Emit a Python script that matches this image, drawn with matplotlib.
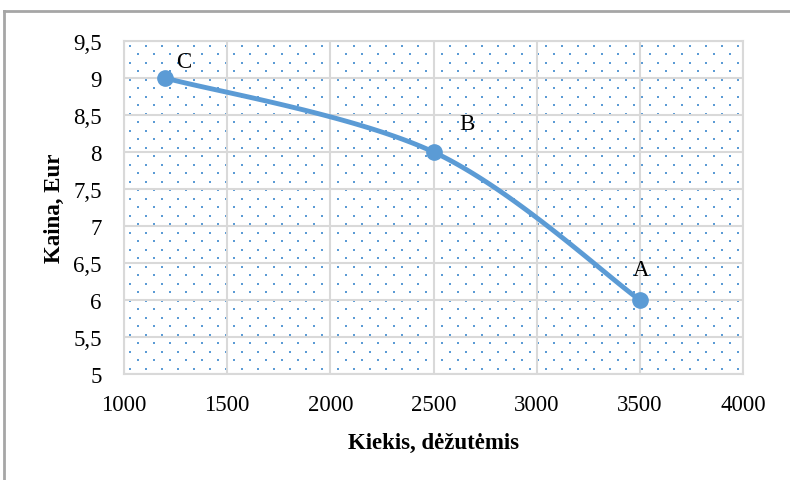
import numpy as np
import matplotlib.pyplot as plt
from matplotlib.lines import Line2D

# data
kiekis = [1200, 2500, 3500]
kaina = [9, 8, 6]
labels = ['C', 'B', 'A']
x_ticks = [1000, 1500, 2000, 2500, 3000, 3500, 4000]
y_ticks = [5, 5.5, 6, 6.5, 7, 7.5, 8, 8.5, 9, 9.5]

blue = '#5B9BD5'
grid_col = '#D9D9D9'
# label offsets in pixels, per point
lab_off = [(18, 16), (33, 28), (1, 31)]

plt.rcParams['font.family'] = ['Liberation Serif', 'DejaVu Serif']


# excel-like smoothed line (bezier through the points)
def smooth(xs, ys, n=60):
    p = np.column_stack([xs, ys]).astype(float)
    out = []
    for i in range(len(p) - 1):
        p0 = p[i - 1] if i > 0 else p[i]
        p3 = p[i + 2] if i + 2 < len(p) else p[i + 1]
        c1 = p[i] + (p[i + 1] - p0) / 6
        c2 = p[i + 1] - (p3 - p[i]) / 6
        t = np.linspace(0, 1, n)[:, None]
        seg = ((1 - t) ** 3 * p[i] + 3 * (1 - t) ** 2 * t * c1
               + 3 * (1 - t) * t ** 2 * c2 + t ** 3 * p[i + 1])
        out.append(seg)
    out = np.vstack(out)
    return out[:, 0], out[:, 1]


fig = plt.figure(figsize=(7.9, 4.81), dpi=100)
ax = fig.add_axes([124 / 790, 1 - 375 / 481, 619 / 790, 333 / 481])

# outer frame (only left and top visible in the crop)
fig.add_artist(Line2D([4 / 790, 4 / 790], [0, 1 - 12 / 481], color='#A6A6A6', lw=2, transform=fig.transFigure))
fig.add_artist(Line2D([4 / 790, 1], [1 - 12 / 481, 1 - 12 / 481], color='#A6A6A6', lw=2, transform=fig.transFigure))

# dotted fill pattern of the plot area
w, h = 619.0, 333.0
dots_x, dots_y = [], []
for r, yy in enumerate(np.arange(4.5, h, 8.5)):
    off = 6 if r % 2 == 0 else 14
    for xx in np.arange(off, w, 16):
        dots_x.append(xx / w)
        dots_y.append(1 - yy / h)
ax.scatter(dots_x, dots_y, s=2.6, marker='s', color=blue, lw=0, transform=ax.transAxes, zorder=0)

ax.set_xlim(1000, 4000)
ax.set_ylim(5, 9.5)
ax.set_xticks(x_ticks)
ax.set_yticks(y_ticks)
ax.set_yticklabels([('%g' % v).replace('.', ',') for v in y_ticks])
ax.grid(True, color=grid_col, lw=1.5)
ax.set_axisbelow(True)
for s in ax.spines.values():
    s.set_color(grid_col)
    s.set_linewidth(1.5)
ax.tick_params(length=0, labelsize=16.5)
ax.tick_params(axis='x', pad=14.5)
ax.tick_params(axis='y', pad=16)

sx, sy = smooth(kiekis, kaina)
ax.plot(sx, sy, color=blue, lw=3.5, solid_capstyle='round', zorder=3)
ax.plot(kiekis, kaina, 'o', color=blue, ms=11, zorder=4)

for x, y, t, off in zip(kiekis, kaina, labels, lab_off):
    ax.annotate(t, (x, y), xytext=off, textcoords='offset pixels', fontsize=16.5, ha='center', va='center')

ax.set_xlabel('Kiekis, dėžutėmis', fontsize=16.5, fontweight='bold', labelpad=12)
ax.set_ylabel('Kaina, Eur', fontsize=16.5, fontweight='bold', labelpad=6)

fig.savefig('out.png', dpi=100)
